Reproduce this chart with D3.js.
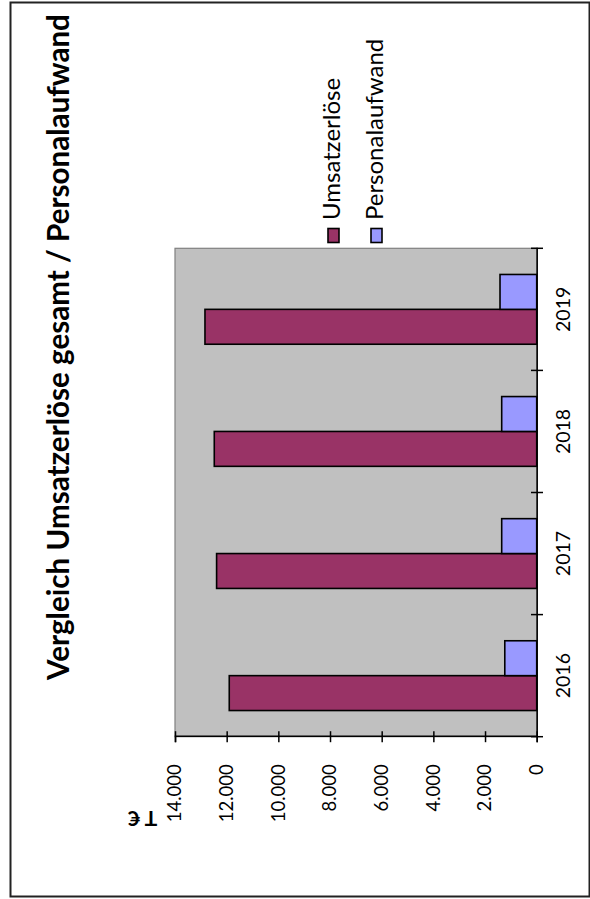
<!DOCTYPE html>
<html>
<head>
<meta charset="utf-8">
<script src="https://cdn.jsdelivr.net/npm/d3@7"></script>
<style>
  html, body { margin: 0; padding: 0; background: #fff; }
  svg { display: block; }
  text { font-family: Lato, "Open Sans", "DejaVu Sans", sans-serif; fill: #000; }
</style>
</head>
<body>
<svg id="chart" width="590" height="899"></svg>
<script>
// Jahreswerte in T€
const years = ["2016", "2017", "2018", "2019"];
const seriesNames = ["Umsatzerlöse", "Personalaufwand"];
const umsatzerloese = [11900, 12390, 12480, 12840];
const personalaufwand = [1235, 1355, 1355, 1420];
const valueTicks = [0, 2000, 4000, 6000, 8000, 10000, 12000, 14000];
const titleText = "Vergleich Umsatzerlöse gesamt / Personalaufwand";
const unitLabel = "T €";

const seriesColors = ["#993366", "#9999FF"];

const svg = d3.select("#chart");
const pageW = 590, pageH = 899;

// Rahmen um das gesamte Diagramm
svg.append("rect")
  .attr("x", 10.5).attr("y", 2.5)
  .attr("width", 579).attr("height", 894)
  .attr("fill", "#fff")
  .attr("stroke", "#222")
  .attr("stroke-width", 2);

// Das Diagramm wird aufrecht aufgebaut und dann um 90° gedreht
const g = svg.append("g")
  .attr("transform", `translate(0,${pageH}) rotate(-90)`);

const plot = { left: 162.3, right: 650.7, top: 175, bottom: 536.7 };

const x = d3.scaleBand()
  .domain(years)
  .range([plot.left, plot.right])
  .padding(0);

const bw = x.bandwidth();
const gap = bw * 0.75 / 3.5;
const xs = d3.scaleBand()
  .domain(seriesNames)
  .range([gap, bw - gap])
  .padding(0);

const y = d3.scaleLinear()
  .domain([0, 14000])
  .range([plot.bottom, plot.top]);

const de = d3.formatLocale({ decimal: ",", thousands: ".", grouping: [3], currency: ["", " €"] });
const fmt = de.format(",d");

// Zeichenfläche
g.append("rect")
  .attr("x", plot.left).attr("y", plot.top)
  .attr("width", plot.right - plot.left)
  .attr("height", plot.bottom - plot.top)
  .attr("fill", "#C0C0C0")
  .attr("stroke", "#808080")
  .attr("stroke-width", 1.2);

// Balken
const rows = years.map((yr, i) => ({
  year: yr,
  values: [
    { key: seriesNames[0], value: umsatzerloese[i] },
    { key: seriesNames[1], value: personalaufwand[i] }
  ]
}));

const groups = g.append("g").selectAll("g")
  .data(rows).join("g")
  .attr("transform", d => `translate(${x(d.year)},0)`);

groups.selectAll("rect")
  .data(d => d.values).join("rect")
  .attr("x", d => xs(d.key))
  .attr("width", xs.bandwidth())
  .attr("y", d => y(d.value))
  .attr("height", d => y(0) - y(d.value))
  .attr("fill", (d, i) => seriesColors[i])
  .attr("stroke", "#000")
  .attr("stroke-width", 1.6);

// Größenachse
const yAxis = g.append("g")
  .attr("transform", `translate(${plot.left},0)`)
  .call(d3.axisLeft(y).tickValues(valueTicks).tickFormat(fmt).tickSize(5.5).tickPadding(22));
yAxis.select(".domain").attr("stroke", "#000").attr("stroke-width", 1.5);
yAxis.selectAll(".tick line").attr("x1", 5.5).attr("x2", -5.5).attr("stroke", "#000").attr("stroke-width", 1.5);
yAxis.selectAll(".tick text")
  .style("font-family", "Lato, 'Open Sans', sans-serif")
  .style("font-size", "18.5px")
  .attr("fill", "#000");

// Rubrikenachse
const xAxis = g.append("g")
  .attr("transform", `translate(0,${plot.bottom})`)
  .call(d3.axisBottom(x).tickSize(0).tickPadding(19));
xAxis.select(".domain").attr("stroke", "#000").attr("stroke-width", 1.5);
xAxis.selectAll(".tick text")
  .style("font-family", "Lato, 'Open Sans', sans-serif")
  .style("font-size", "19.5px")
  .attr("fill", "#000");

const bounds = years.map(d => x(d)).concat([x.range()[1]]);
xAxis.selectAll(".sep")
  .data(bounds).join("line")
  .attr("class", "sep")
  .attr("x1", d => d).attr("x2", d => d)
  .attr("y1", -5.7).attr("y2", 6.3)
  .attr("stroke", "#000").attr("stroke-width", 1.5);

// Überschrift
g.append("text")
  .attr("x", 552).attr("y", 69)
  .attr("text-anchor", "middle")
  .style("font-weight", "bold")
  .style("font-size", "29.6px")
  .text(titleText);

// Einheit der Größenachse
g.append("text")
  .attr("transform", "translate(88,142.5) rotate(-90)")
  .attr("text-anchor", "middle")
  .style("font-weight", "bold")
  .style("font-size", "21px")
  .text(unitLabel);

// Legende
const legend = g.append("g");
const legendRows = seriesNames.map((name, i) => ({ name, color: seriesColors[i], base: 339.5 + i * 43 }));
legend.selectAll("rect")
  .data(legendRows).join("rect")
  .attr("x", 656.5).attr("y", d => d.base - 11.5)
  .attr("width", 14).attr("height", 11)
  .attr("fill", d => d.color)
  .attr("stroke", "#000").attr("stroke-width", 1.6);
legend.selectAll("text")
  .data(legendRows).join("text")
  .attr("x", 679).attr("y", d => d.base)
  .style("font-size", "24px")
  .text(d => d.name);
</script>
</body>
</html>
